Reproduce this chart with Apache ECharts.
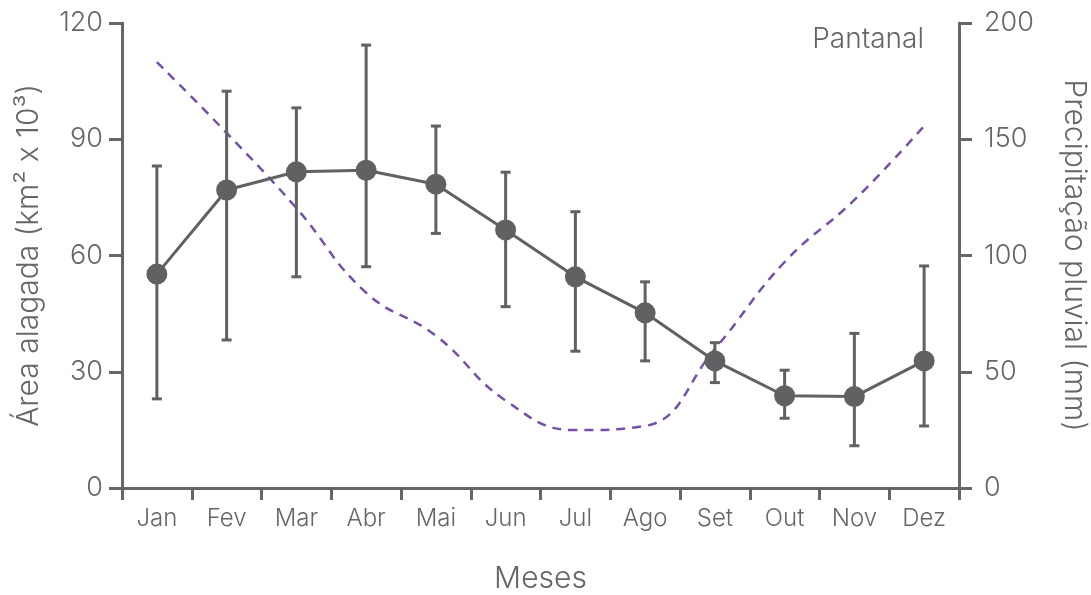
<!DOCTYPE html>
<html>
<head>
<meta charset="utf-8">
<script src="https://cdn.jsdelivr.net/npm/echarts@6/dist/echarts.min.js"></script>
<style>
html,body{margin:0;padding:0;background:#fff;}
#chart{width:1091px;height:595px;}
</style>
</head>
<body>
<div id="chart"></div>
<script>
const months = ['Jan','Fev','Mar','Abr','Mai','Jun','Jul','Ago','Set','Out','Nov','Dez'];
const areaMean = [55.2, 76.9, 81.6, 82.0, 78.4, 66.6, 54.5, 45.2, 32.8, 23.8, 23.6, 32.8];
const areaHigh = [83.1, 102.4, 98.1, 114.3, 93.4, 81.5, 71.3, 53.2, 37.5, 30.4, 39.9, 57.3];
const areaLow  = [23.0, 38.2, 54.5, 57.1, 65.7, 46.8, 35.3, 32.8, 27.2, 18.0, 10.9, 16.0];
const rainfall = [183.2, 152.7, 120.4, 84.0, 65.5, 37.6, 24.9, 26.7, 59.8, 97.2, 123.9, 155.7];
const leftTicks = [0, 30, 60, 90, 120];
const rightTicks = [0, 50, 100, 150, 200];

const FONT = 'Inter';
const FW = 350;
const GREY = '#616163';
const AXIS = '#666666';
const TEXT = '#666666';
const PURPLE = '#7650a8';

const chart = echarts.init(document.getElementById('chart'), null, {renderer: 'canvas'});

const errData = months.map((m, i) => [i, areaLow[i], areaHigh[i]]);

chart.setOption({
  animation: false,
  backgroundColor: '#ffffff',
  textStyle: {fontFamily: FONT, fontWeight: FW},
  grid: {left: 122, right: 132, top: 23, bottom: 107, containLabel: false, outerBoundsMode: 'none'},
  title: {
    text: 'Pantanal',
    right: 162,
    top: 21,
    textStyle: {fontFamily: FONT, fontSize: 28, fontWeight: FW, color: TEXT}
  },
  xAxis: {
    type: 'category',
    data: months,
    boundaryGap: true,
    name: 'Meses',
    nameLocation: 'middle',
    nameGap: 76,
    nameTextStyle: {fontFamily: FONT, fontSize: 30, fontWeight: FW, color: TEXT},
    axisLine: {lineStyle: {color: AXIS, width: 3}},
    axisTick: {show: true, length: 12, lineStyle: {color: AXIS, width: 3}, alignWithLabel: false},
    axisLabel: {fontFamily: FONT, fontSize: 24, fontWeight: FW, color: TEXT, margin: 19},
    splitLine: {show: false}
  },
  yAxis: [
    {
      type: 'value',
      position: 'left',
      min: 0, max: 120, interval: 30,
      name: 'Área alagada (km² x 10³)',
      nameLocation: 'middle',
      nameGap: 78,
      nameTextStyle: {fontFamily: FONT, fontSize: 30, fontWeight: FW, color: TEXT},
      axisLine: {show: true, lineStyle: {color: AXIS, width: 3}},
      axisTick: {show: true, length: 13, lineStyle: {color: AXIS, width: 3}},
      axisLabel: {fontFamily: FONT, fontSize: 27, fontWeight: FW, color: TEXT, margin: 19,
        formatter: v => leftTicks.includes(v) ? String(v) : ''},
      splitLine: {show: false}
    },
    {
      type: 'value',
      position: 'right',
      min: 0, max: 200, interval: 50,
      name: 'Precipitação pluvial (mm)',
      nameLocation: 'middle',
      nameGap: 100,
      nameRotate: -90,
      nameTextStyle: {fontFamily: FONT, fontSize: 30, fontWeight: FW, color: TEXT},
      axisLine: {show: true, lineStyle: {color: AXIS, width: 3}},
      axisTick: {show: true, length: 13, lineStyle: {color: AXIS, width: 3}},
      axisLabel: {fontFamily: FONT, fontSize: 27, fontWeight: FW, color: TEXT, margin: 25,
        formatter: v => rightTicks.includes(v) ? String(v) : ''},
      splitLine: {show: false}
    }
  ],
  series: [
    {
      name: 'Precipitação',
      type: 'line',
      yAxisIndex: 1,
      data: rainfall,
      smooth: 0.45,
      showSymbol: false,
      symbol: 'none',
      lineStyle: {color: PURPLE, width: 2.5, type: [9, 7]},
      z: 1
    },
    {
      name: 'Erro',
      type: 'custom',
      yAxisIndex: 0,
      data: errData,
      z: 2,
      renderItem: function (params, api) {
        const x = api.value(0);
        const lo = api.coord([x, api.value(1)]);
        const hi = api.coord([x, api.value(2)]);
        const cap = 5;
        const style = {stroke: GREY, lineWidth: 3, fill: null};
        return {
          type: 'group',
          children: [
            {type: 'line', shape: {x1: hi[0], y1: hi[1], x2: lo[0], y2: lo[1]}, style: style},
            {type: 'line', shape: {x1: hi[0] - cap, y1: hi[1], x2: hi[0] + cap, y2: hi[1]}, style: style},
            {type: 'line', shape: {x1: lo[0] - cap, y1: lo[1], x2: lo[0] + cap, y2: lo[1]}, style: style}
          ]
        };
      }
    },
    {
      name: 'Área alagada',
      type: 'line',
      yAxisIndex: 0,
      data: areaMean,
      symbol: 'circle',
      symbolSize: 21,
      showSymbol: true,
      lineStyle: {color: GREY, width: 3},
      itemStyle: {color: GREY},
      z: 3
    }
  ]
});
</script>
</body>
</html>
